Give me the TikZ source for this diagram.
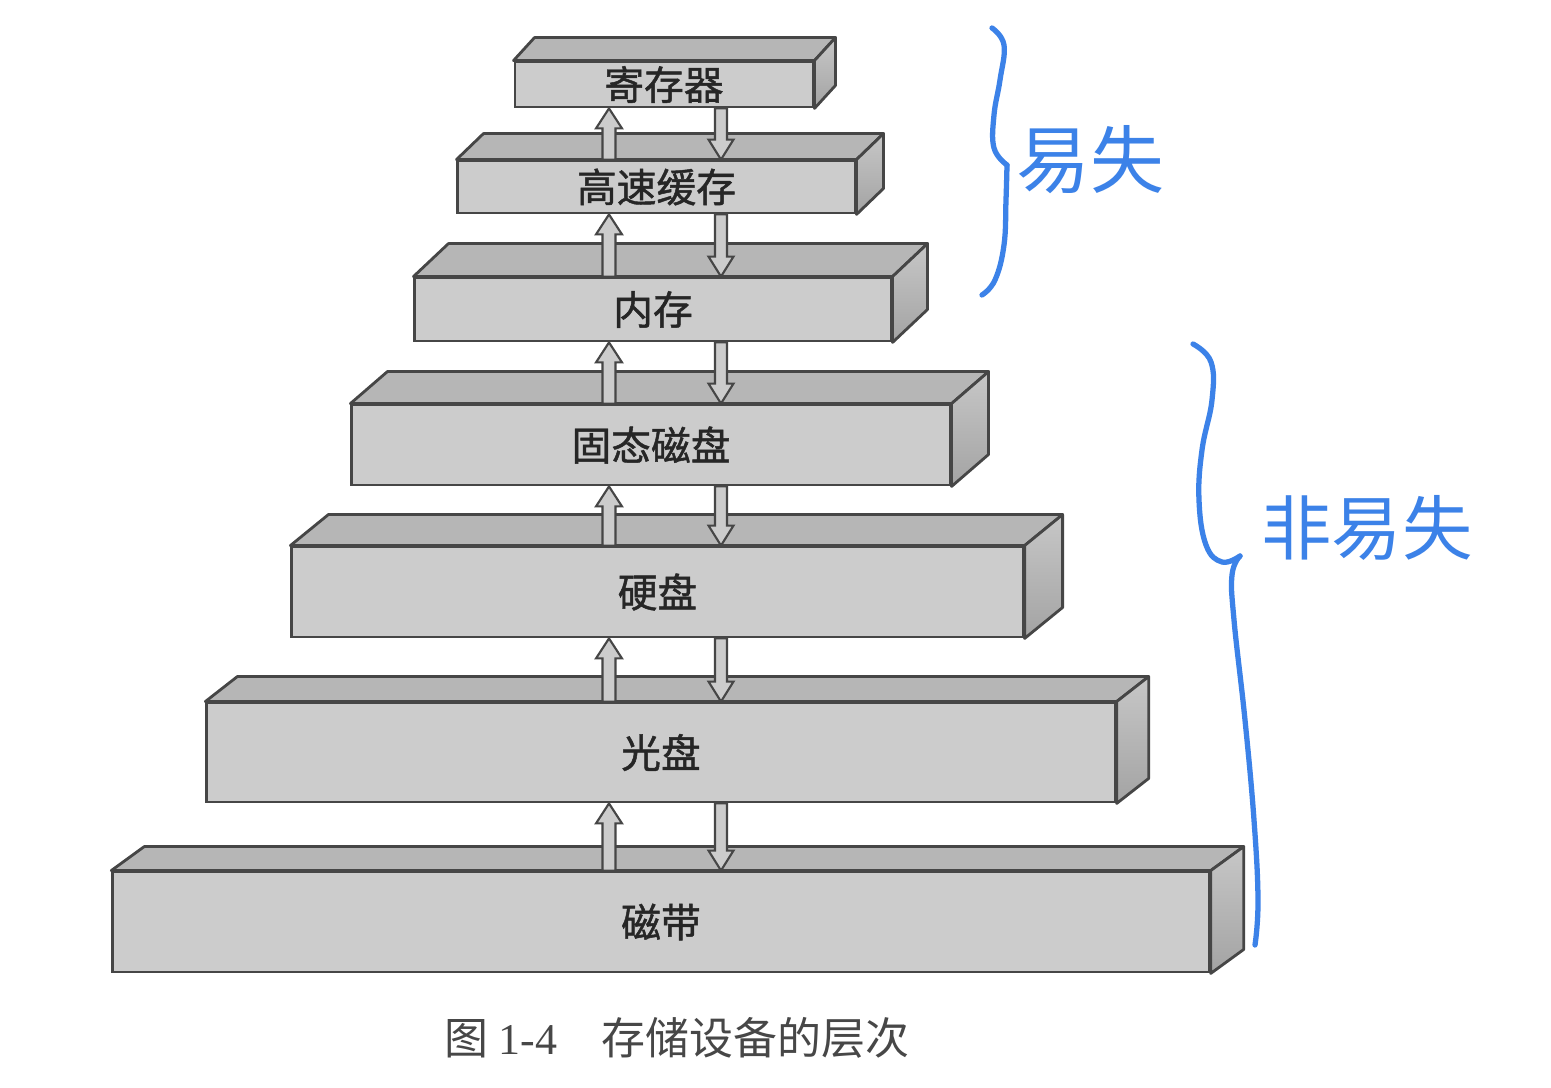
\documentclass[tikz,border=0pt]{standalone}
\usepackage{fontspec}
\setmainfont{Liberation Serif}
\newfontfamily\cjk{Noto Sans CJK SC}
\newfontfamily\cjkbold[FakeBold=1.2]{Noto Sans CJK SC}
\usetikzlibrary{calc}
\definecolor{handblue}{RGB}{60,130,232}
\definecolor{frontgray}{RGB}{204,204,204}
\definecolor{topgray}{RGB}{182,182,182}
\definecolor{edgegray}{RGB}{70,70,70}

\begin{document}
\begin{tikzpicture}[x=0.01cm, y=-0.01cm,
	box/.style={draw=edgegray, line width=0.8pt, fill=frontgray, inner sep=0pt, font=\cjkbold\fontsize{11.3}{12}\selectfont, text=black!85},
	top face/.style={draw=edgegray, line width=0.8pt, fill=topgray, line join=round},
	side face/.style={draw=edgegray, line width=0.8pt, top color=black!22, bottom color=black!36, line join=round},
	flow/.style={draw=edgegray, line width=0.6pt, fill=frontgray, line join=miter},
	hand/.style={draw=handblue, line width=1.5pt, line cap=round, line join=round},
	hand text/.style={text=handblue, font=\cjk\fontsize{21}{21}\selectfont}]
	
	\useasboundingbox[fill=white] (0,0) rectangle (1551,1088);
	
	% levels, front faces
	\node[box, minimum width=2.98cm, minimum height=0.45cm] (reg) at (664,84.5) {寄存器};
	\node[box, minimum width=3.97cm, minimum height=0.52cm] (cache) at (656.5,187) {高速缓存};
	\node[box, minimum width=4.76cm, minimum height=0.63cm] (mem) at (653,309.5) {内存};
	\node[box, minimum width=5.98cm, minimum height=0.80cm] (ssd) at (651,445) {固态磁盘};
	\node[box, minimum width=7.31cm, minimum height=0.90cm] (hdd) at (657.5,592) {硬盘};
	\node[box, minimum width=9.08cm, minimum height=0.99cm] (cd) at (661,752.5) {光盘};
	\node[box, minimum width=10.96cm, minimum height=1.00cm] (tape) at (661,922) {磁带};
	
	% top and side faces
	\foreach \n/\dx/\dy in {reg/21/-23, cache/27/-26, mem/35/-33, ssd/37/-32, hdd/38/-31, cd/32/-25, tape/33/-24}{
		\draw[top face] (\n.north west) -- ++(\dx,\dy) -- ($(\n.north east)+(\dx,\dy)$) -- (\n.north east) -- cycle;
		\draw[side face] (\n.north east) -- ++(\dx,\dy) -- ($(\n.south east)+(\dx,\dy)$) -- (\n.south east) -- cycle;
	}
	
	% up and down arrows
	\coordinate (upx) at (609,0);
	\coordinate (dnx) at (721,0);
	\foreach \hi/\lo in {reg/cache, cache/mem, mem/ssd, ssd/hdd, hdd/cd, cd/tape}{
		\draw[flow] ($(upx |- \lo.north)+(-6.5,0)$) -- ($(upx |- \hi.south)+(-6.5,20)$) -- ++(-6.5,0) -- (upx |- \hi.south) -- ++(13,20) -- ++(-6.5,0) -- ($(upx |- \lo.north)+(6.5,0)$) -- cycle;
		\draw[flow] ($(dnx |- \hi.south)+(-6,0)$) -- ($(dnx |- \lo.north)+(-6,-20)$) -- ++(-6.5,0) -- (dnx |- \lo.north) -- ++(12.5,-20) -- ++(-6.5,0) -- ($(dnx |- \hi.south)+(6,0)$) -- cycle;
	}
	
	% handwritten braces
	\draw[hand] plot[smooth, tension=0.7] coordinates {(992,28) (1004,45) (1000,80) (994,115) (994,148) (1007,165)};
	\draw[hand] plot[smooth, tension=0.7] coordinates {(1007,165) (1006,200) (1004,245) (995,280) (982,295)};
	\draw[hand] plot[smooth, tension=0.7] coordinates {(1193,344) (1211,362) (1212,400) (1202,450) (1199,500) (1206,545) (1222,562) (1240,556)};
	\draw[hand] plot[smooth, tension=0.7] coordinates {(1240,556) (1232,575) (1234,620) (1245,720) (1254,820) (1258,900) (1255,945)};
	\node[hand text] (vol) at (1090,160) {易失};
	\node[hand text, font=\cjk\fontsize{20}{20}\selectfont] (nonvol) at (1367,528) {非易失};
	
	\node[font=\cjk\fontsize{12.5}{13}\selectfont, text=black!72] (caption) at (677,1038) {图 {\rmfamily 1-4}\quad 存储设备的层次};
\end{tikzpicture}
\end{document}
